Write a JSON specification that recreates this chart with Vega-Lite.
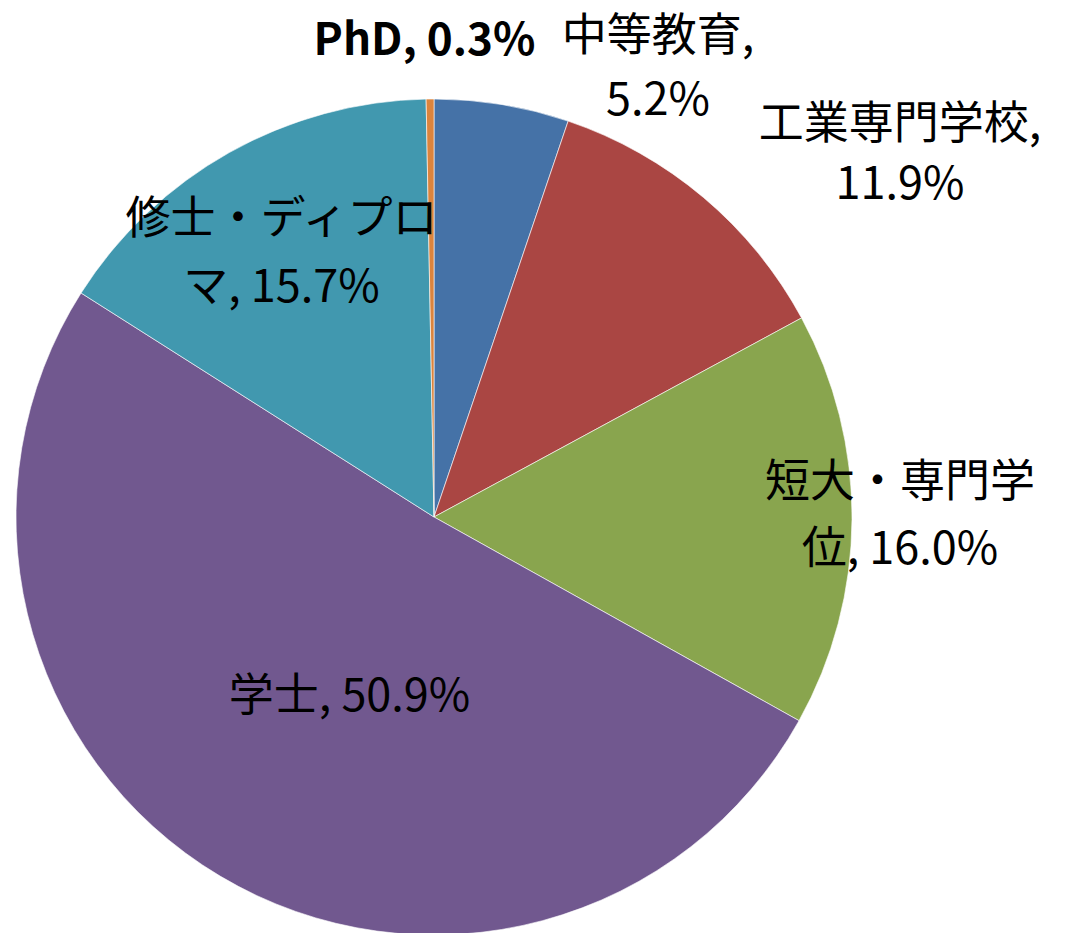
{
  "$schema": "https://vega.github.io/schema/vega-lite/v6.json",
  "width": 836,
  "height": 836,
  "autosize": {"type": "none"},
  "padding": {"left": 16, "top": 99, "right": 216, "bottom": 0},
  "background": "white",
  "config": {"view": {"stroke": null}},
  "data": {
    "values": [
      {"category": "中等教育", "value": 5.2, "order": 1, "label": "中等教育,\n5.2%"},
      {"category": "工業専門学校", "value": 11.9, "order": 2, "label": "工業専門学校,\n11.9%"},
      {"category": "短大・専門学位", "value": 16.0, "order": 3, "label": "短大・専門学\n位, 16.0%"},
      {"category": "学士", "value": 50.9, "order": 4, "label": "学士, 50.9%"},
      {"category": "修士・ディプロマ", "value": 15.7, "order": 5, "label": "修士・ディプロ\nマ, 15.7%"},
      {"category": "PhD", "value": 0.3, "order": 6, "label": "PhD, 0.3%"}
    ]
  },
  "encoding": {
    "theta": {"field": "value", "type": "quantitative", "stack": true},
    "order": {"field": "order", "type": "quantitative", "sort": "ascending"}
  },
  "layer": [
    {
      "mark": {"type": "arc", "stroke": "#ffffff", "strokeWidth": 0.6},
      "encoding": {
        "color": {
          "field": "category",
          "type": "nominal",
          "legend": null,
          "sort": null,
          "scale": {
            "domain": ["中等教育", "工業専門学校", "短大・専門学位", "学士", "修士・ディプロマ", "PhD"],
            "range": ["#4572A7", "#AA4643", "#89A54E", "#71588F", "#4198AF", "#DB843D"]
          }
        }
      }
    },
    {
      "mark": {"type": "text", "radius": 475, "dx": -5, "dy": 0, "fontSize": 44, "font": "Noto Sans CJK JP", "fontWeight": "bold", "lineBreak": "\n", "lineHeight": 65, "align": "center", "baseline": "middle", "fill": "#000000"},
      "encoding": {
        "detail": {"field": "category", "type": "nominal"},
        "text": {"condition": {"test": "datum.category === 'PhD'", "field": "label", "type": "nominal"}, "value": ""}
      }
    },
    {
      "mark": {"type": "text", "radius": 455, "dx": 150, "dy": -31, "fontSize": 45, "font": "Noto Sans CJK JP", "lineBreak": "\n", "lineHeight": 64, "align": "center", "baseline": "middle", "fill": "#000000"},
      "encoding": {
        "detail": {"field": "category", "type": "nominal"},
        "text": {"condition": {"test": "datum.category === '中等教育'", "field": "label", "type": "nominal"}, "value": ""}
      }
    },
    {
      "mark": {"type": "text", "radius": 473, "dx": 161, "dy": -30, "fontSize": 45, "font": "Noto Sans CJK JP", "lineBreak": "\n", "lineHeight": 60, "align": "center", "baseline": "middle", "fill": "#000000"},
      "encoding": {
        "detail": {"field": "category", "type": "nominal"},
        "text": {"condition": {"test": "datum.category === '工業専門学校'", "field": "label", "type": "nominal"}, "value": ""}
      }
    },
    {
      "mark": {"type": "text", "radius": 466, "dx": 0, "dy": -37, "fontSize": 45, "font": "Noto Sans CJK JP", "lineBreak": "\n", "lineHeight": 67, "align": "center", "baseline": "middle", "fill": "#000000"},
      "encoding": {
        "detail": {"field": "category", "type": "nominal"},
        "text": {"condition": {"test": "datum.category === '短大・専門学位'", "field": "label", "type": "nominal"}, "value": ""}
      }
    },
    {
      "mark": {"type": "text", "radius": 210, "dx": 23, "dy": 0, "fontSize": 45, "font": "Noto Sans CJK JP", "lineBreak": "\n", "lineHeight": 65, "align": "center", "baseline": "middle", "fill": "#000000"},
      "encoding": {
        "detail": {"field": "category", "type": "nominal"},
        "text": {"condition": {"test": "datum.category === '学士'", "field": "label", "type": "nominal"}, "value": ""}
      }
    },
    {
      "mark": {"type": "text", "radius": 299, "dx": -6, "dy": -36, "fontSize": 45, "font": "Noto Sans CJK JP", "lineBreak": "\n", "lineHeight": 68, "align": "center", "baseline": "middle", "fill": "#000000"},
      "encoding": {
        "detail": {"field": "category", "type": "nominal"},
        "text": {"condition": {"test": "datum.category === '修士・ディプロマ'", "field": "label", "type": "nominal"}, "value": ""}
      }
    }
  ]
}
